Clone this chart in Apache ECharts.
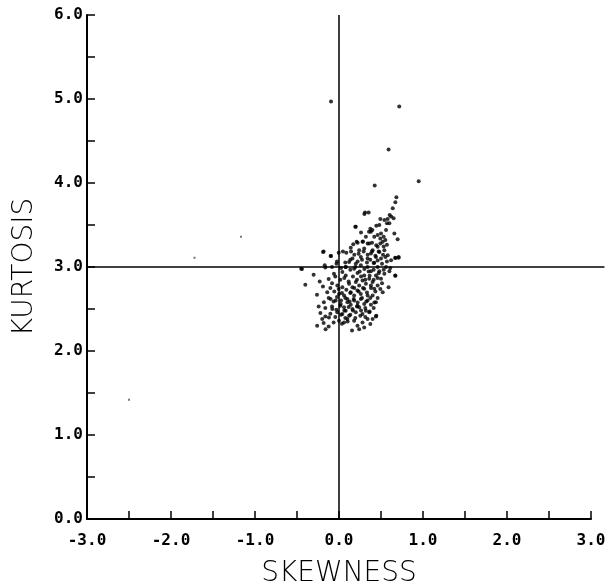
<!DOCTYPE html>
<html>
<head>
<meta charset="utf-8">
<script src="https://cdn.jsdelivr.net/npm/echarts@6/dist/echarts.min.js"></script>
<style>
  html, body { margin: 0; padding: 0; background: #fff; }
  #chart { width: 612px; height: 586px; }
</style>
</head>
<body>
<div id="chart"></div>
<script>
// Axis ranges and tick spacing
const xRange = [-3, 3];
const yRange = [0, 6];
const tickStep = 0.5;

// Reference lines: skewness = 0 and kurtosis = 3 (normal distribution)
const normalSkewness = 0;
const normalKurtosis = 3;
const hLineExtent = [-3, 3.16];

// Sample (skewness, kurtosis) pairs
const samplePoints = [
  [0.425, 3.97], [0.949, 4.02], [0.683, 3.83], [0.671, 3.77], [0.717, 4.91], [0.59, 4.40], [-0.095, 4.97],
  [0.353, 3.65], [0.302, 3.63], [0.603, 3.62], [0.579, 3.57], [0.492, 3.57], [0.194, 3.48],
  [0.373, 3.455], [0.357, 3.42], [0.397, 3.44], [0.444, 3.49], [0.262, 3.41], [0.571, 3.52],
  [0.659, 3.40], [0.698, 3.33], [0.460, 3.38], [0.492, 3.34], [0.532, 3.36], [0.552, 3.32],
  [0.222, 3.29], [0.286, 3.305], [0.341, 3.28], [0.393, 3.29], [0.444, 3.26], [0.492, 3.28],
  [0.532, 3.245], [0.571, 3.265], [-0.183, 3.185], [-0.095, 3.13], [-0.004, 3.17], [0.047, 3.185],
  [0.087, 3.17], [0.143, 3.185], [0.182, 3.146], [0.234, 3.158], [0.294, 3.185], [0.341, 3.146],
  [0.393, 3.185], [0.433, 3.134], [0.472, 3.185], [0.524, 3.146], [0.552, 3.118], [0.671, 3.106],
  [0.710, 3.118], [-0.024, 3.066], [0.075, 3.054], [0.135, 3.086], [0.222, 3.066], [0.274, 3.086],
  [0.333, 3.054], [0.373, 3.086], [0.413, 3.047], [0.460, 3.078], [0.512, 3.039], [0.571, 3.066],
  [-0.441, 2.975], [-0.163, 2.995], [-0.083, 2.999], [0.024, 2.987], [0.135, 2.967], [0.194, 2.999],
  [0.246, 2.947], [0.302, 2.975], [0.353, 2.947], [0.413, 2.967], [0.472, 2.927], [0.532, 2.967],
  [0.611, 2.987], [0.671, 2.896], [-0.302, 2.907], [-0.401, 2.788], [-0.230, 2.828], [-0.191, 2.769],
  [-0.123, 2.856], [-0.083, 2.808], [-0.044, 2.888], [0.016, 2.848], [0.063, 2.868], [0.115, 2.828],
  [0.166, 2.888], [0.214, 2.848], [0.262, 2.888], [0.313, 2.848], [0.365, 2.896], [0.413, 2.848],
  [0.460, 2.868], [0.512, 2.808], [-0.262, 2.669], [-0.103, 2.749], [-0.056, 2.709], [-0.004, 2.737],
  [0.035, 2.689], [0.087, 2.729], [0.135, 2.689], [0.182, 2.749], [0.234, 2.709], [0.286, 2.749],
  [0.333, 2.697], [0.381, 2.749], [0.433, 2.709], [0.492, 2.737], [-0.123, 2.630], [-0.064, 2.590],
  [-0.024, 2.642], [0.024, 2.602], [0.075, 2.630], [0.127, 2.590], [0.175, 2.618], [0.222, 2.578],
  [0.274, 2.630], [0.325, 2.590], [0.373, 2.630], [0.421, 2.578], [0.460, 2.630], [-0.242, 2.531],
  [-0.163, 2.511], [-0.083, 2.531], [-0.032, 2.491], [0.016, 2.539], [0.063, 2.483], [0.115, 2.523],
  [0.166, 2.483], [0.214, 2.531], [0.262, 2.483], [0.313, 2.511], [0.365, 2.471], [0.413, 2.511],
  [-0.222, 2.451], [-0.163, 2.412], [-0.103, 2.443], [-0.044, 2.404], [0.024, 2.431], [0.075, 2.392],
  [0.135, 2.431], [0.194, 2.392], [0.254, 2.420], [0.313, 2.404], [0.444, 2.420], [-0.183, 2.332],
  [-0.123, 2.292], [-0.064, 2.340], [0.035, 2.324], [0.103, 2.352], [0.373, 2.320], [0.155, 2.245],
  [0.18, 2.98], [0.22, 2.93], [0.26, 3.02], [0.30, 2.90], [0.34, 3.00], [0.38, 2.95], [0.42, 3.05],
  [0.46, 3.00], [0.50, 3.10], [0.44, 3.12], [0.12, 2.80], [0.16, 2.76], [0.20, 2.82], [0.24, 2.78],
  [0.28, 2.84], [0.32, 2.80], [0.36, 2.86], [0.40, 2.82], [0.44, 2.90], [0.48, 2.95], [0.06, 2.66],
  [0.10, 2.62], [0.14, 2.70], [0.18, 2.66], [0.22, 2.72], [0.26, 2.68], [0.30, 2.74], [0.34, 2.66],
  [0.38, 2.78], [0.42, 2.74], [0.02, 2.56], [0.06, 2.52], [0.10, 2.58], [0.14, 2.55], [0.18, 2.60],
  [0.22, 2.54], [0.26, 2.62], [0.30, 2.56], [0.34, 2.60], [0.38, 2.55], [-0.02, 2.46], [0.04, 2.44],
  [0.08, 2.48], [0.12, 2.42], [0.16, 2.50], [0.20, 2.46], [0.24, 2.52], [0.28, 2.44], [0.32, 2.48],
  [0.00, 2.36], [0.06, 2.34], [0.10, 2.38], [0.18, 2.36], [0.22, 2.30], [0.28, 2.34], [0.34, 2.38],
  [0.40, 3.20], [0.46, 3.24], [0.52, 3.30], [0.36, 3.28], [0.42, 3.36], [0.50, 3.40], [0.56, 3.44],
  [0.48, 3.50], [0.54, 3.56], [0.62, 3.60], [0.64, 3.70], [0.60, 3.52], [0.30, 3.22], [0.26, 3.12],
  [0.34, 3.10], [0.38, 3.16], [0.48, 3.18], [0.54, 3.20], [0.58, 3.14], [0.62, 3.08], [-0.06, 2.92],
  [-0.02, 2.78], [0.04, 2.94], [0.08, 2.90], [-0.14, 2.70], [-0.10, 2.62], [-0.18, 2.58], [-0.08, 2.50],
  [-0.12, 2.40], [-0.20, 2.38], [-0.26, 2.30], [-0.16, 2.26], [0.00, 2.68], [0.04, 2.76], [-0.04, 2.60],
  [0.08, 3.00], [0.12, 3.06], [0.16, 3.10], [0.20, 3.04], [0.24, 3.20], [0.28, 3.30], [0.32, 3.36],
  [0.38, 3.42], [0.50, 2.86], [0.54, 2.92], [0.56, 3.00], [0.60, 2.95], [0.46, 2.78], [0.52, 2.70],
  [0.40, 2.66], [0.44, 2.58], [0.36, 2.46], [0.40, 2.38], [0.30, 2.28], [0.24, 2.26],
  [0.67, 2.90], [0.59, 2.76], [0.44, 2.41], [0.31, 3.65], [0.65, 3.58], [0.71, 3.11], [0.67, 3.11],
  [0.20, 3.48], [0.21, 3.30], [0.17, 3.27], [0.14, 3.23], [-0.19, 3.18], [-0.10, 3.13],
  [-0.45, 2.98], [-0.17, 3.02], [0.08, 3.00], [-0.03, 3.04]
];

// Isolated faint specks far from the main cluster
const faintPoints = [[-1.167, 3.36], [-1.72, 3.11], [-2.50, 1.42]];

const labelFont = {
  fontFamily: 'DejaVu Sans Mono',
  fontWeight: 'bold',
  fontSize: 16,
  color: '#000'
};
const titleFont = {
  fontFamily: 'DejaVu Sans',
  fontWeight: 200,
  fontSize: 28,
  color: '#000'
};

function tickLabel(v) {
  return Math.abs(v - Math.round(v)) < 1e-9 ? v.toFixed(1) : '';
}

const axisCommon = {
  type: 'value',
  interval: tickStep,
  splitLine: { show: false },
  axisLine: { show: true, onZero: false, lineStyle: { color: '#000', width: 2 } },
  axisTick: { show: true, inside: true, length: 8, lineStyle: { color: '#000', width: 1.5 } },
  axisLabel: Object.assign({ formatter: tickLabel, showMinLabel: true, showMaxLabel: true }, labelFont)
};

const chart = echarts.init(document.getElementById('chart'), null, { renderer: 'canvas' });
chart.setOption({
  backgroundColor: '#fff',
  animation: false,
  grid: { left: 87, right: 21, top: 15, bottom: 67, containLabel: false, outerBoundsMode: 'none' },
  xAxis: Object.assign({}, axisCommon, {
    min: xRange[0], max: xRange[1],
    name: 'SKEWNESS', nameLocation: 'middle', nameGap: 41,
    nameTextStyle: titleFont,
    axisLabel: Object.assign({}, axisCommon.axisLabel, { margin: 14 })
  }),
  yAxis: Object.assign({}, axisCommon, {
    min: yRange[0], max: yRange[1],
    name: 'KURTOSIS', nameLocation: 'middle', nameGap: 48, nameRotate: 90,
    nameTextStyle: titleFont,
    axisLabel: Object.assign({}, axisCommon.axisLabel, { margin: 4 })
  }),
  series: [
    {
      // skewness = 0 reference line
      type: 'line',
      data: [[normalSkewness, yRange[0]], [normalSkewness, yRange[1]]],
      symbol: 'none',
      lineStyle: { color: '#000', width: 1.5 },
      silent: true
    },
    {
      type: 'scatter',
      data: samplePoints,
      symbol: 'circle',
      symbolSize: 4,
      itemStyle: { color: '#000' }
    },
    {
      type: 'scatter',
      data: faintPoints,
      symbol: 'rect',
      symbolSize: 2,
      itemStyle: { color: '#555' }
    }
  ]
});

// kurtosis = 3 reference line, which runs slightly past the right end of the x axis
const p0 = chart.convertToPixel({ gridIndex: 0 }, [hLineExtent[0], normalKurtosis]);
const p1 = chart.convertToPixel({ gridIndex: 0 }, [hLineExtent[1], normalKurtosis]);
chart.setOption({
  graphic: [{
    type: 'line',
    silent: true,
    z: 5,
    shape: { x1: p0[0], y1: p0[1], x2: p1[0], y2: p1[1] },
    style: { stroke: '#000', lineWidth: 1.5 }
  }]
});
</script>
</body>
</html>
